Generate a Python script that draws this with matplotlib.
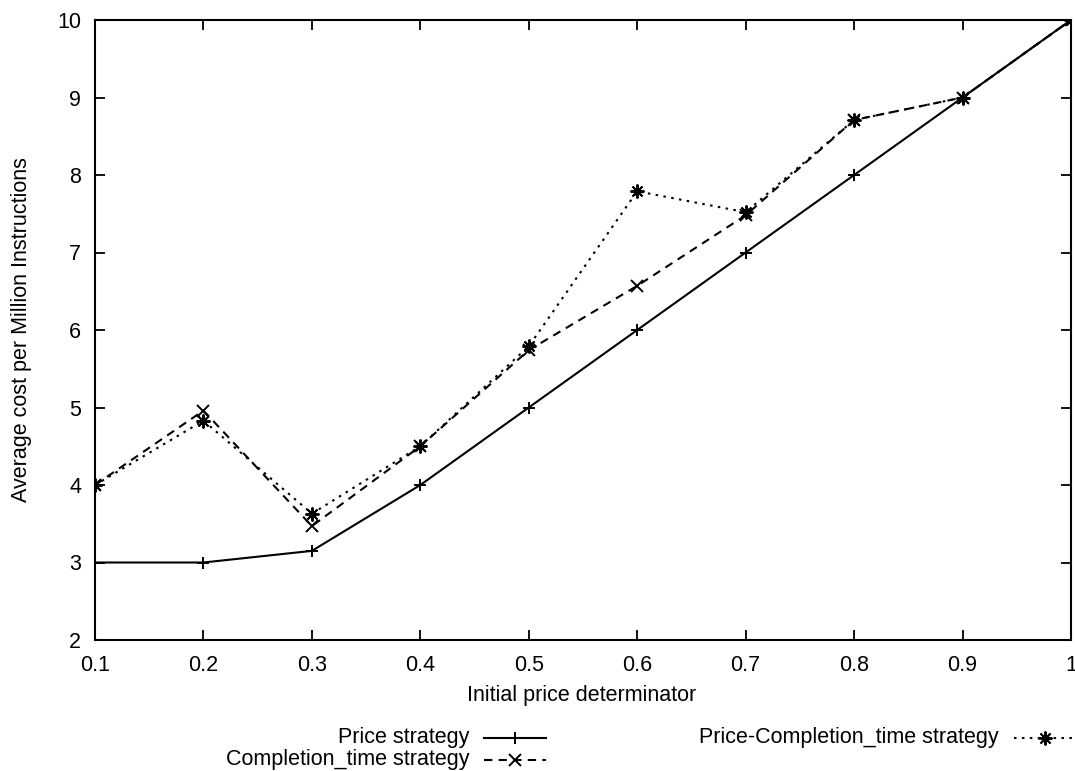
import matplotlib
matplotlib.use("Agg")
import matplotlib.pyplot as plt
from matplotlib.lines import Line2D

plt.rcParams['font.family'] = ['Liberation Sans', 'DejaVu Sans']

# data
price_det = [0.1, 0.2, 0.3, 0.4, 0.5, 0.6, 0.7, 0.8, 0.9, 1.0]
price_strategy = [3.0, 3.0, 3.15, 4.0, 5.0, 6.0, 7.0, 8.0, 9.0, 10.0]
completion_strategy = [4.0, 4.96, 3.47, 4.5, 5.74, 6.57, 7.48, 8.71, 9.0, 10.0]
price_completion_strategy = [4.0, 4.83, 3.63, 4.5, 5.79, 7.79, 7.52, 8.71, 9.0, 10.0]

x_ticks = [0.1, 0.2, 0.3, 0.4, 0.5, 0.6, 0.7, 0.8, 0.9, 1.0]
x_ticklabels = ['0.1', '0.2', '0.3', '0.4', '0.5', '0.6', '0.7', '0.8', '0.9', '1']
y_ticks = [2, 3, 4, 5, 6, 7, 8, 9, 10]

FS = 15.5
W, H = 1075, 771

fig = plt.figure(figsize=(W / 100, H / 100), dpi=100)
ax = fig.add_axes([95 / W, 1 - 640 / H, 976 / W, 620 / H])

asterisk = (8, 2, 0)
styles = [
    dict(ls='-', marker='+', ms=9, label='Price strategy'),
    dict(ls=(0, (4, 3)), marker='x', ms=8, label='Completion_time strategy'),
    dict(ls=(0, (1.2, 2.6)), marker=asterisk, ms=10, label='Price-Completion_time strategy'),
]
series = [price_strategy, completion_strategy, price_completion_strategy]

for vals, st in zip(series, styles):
    ax.plot(price_det, vals, color='black', lw=1.5, mew=1.4, **st)

ax.set_xlim(0.1, 1.0)
ax.set_ylim(2, 10)
ax.set_xticks(x_ticks)
ax.set_xticklabels(x_ticklabels)
ax.set_yticks(y_ticks)
ax.tick_params(direction='in', length=7, width=1.3, top=True, right=True,
               labelsize=FS)
ax.tick_params(axis='x', pad=11)
ax.tick_params(axis='y', pad=10)
for s in ax.spines.values():
    s.set_linewidth(1.5)

ax.set_xlabel('Initial price determinator', fontsize=FS)
ax.set_ylabel('Average cost per Million Instructions', fontsize=FS)
ax.xaxis.label.set_va('center')
ax.yaxis.label.set_va('center')
ax.xaxis.set_label_coords((582 - 95) / 976, -(695 - 640) / 620)
ax.yaxis.set_label_coords(-(95 - 22) / 976, 0.5)

# gnuplot style key below the plot: text right aligned, then the sample
key_pos = [(469, 738), (469, 760), (999, 738)]
for (kx, ky), st in zip(key_pos, styles):
    fy = 1 - ky / H
    fig.text(kx / W, fy, st['label'], ha='right', va='center', fontsize=FS)
    x0, x1 = (kx + 15) / W, (kx + 77) / W
    fig.add_artist(Line2D([x0, x1], [fy, fy], transform=fig.transFigure,
                          color='black', lw=1.5, ls=st['ls']))
    fig.add_artist(Line2D([(x0 + x1) / 2], [fy], transform=fig.transFigure,
                          color='black', ls='none', marker=st['marker'],
                          ms=st['ms'], mew=1.4))

fig.savefig('out.png', dpi=100)
